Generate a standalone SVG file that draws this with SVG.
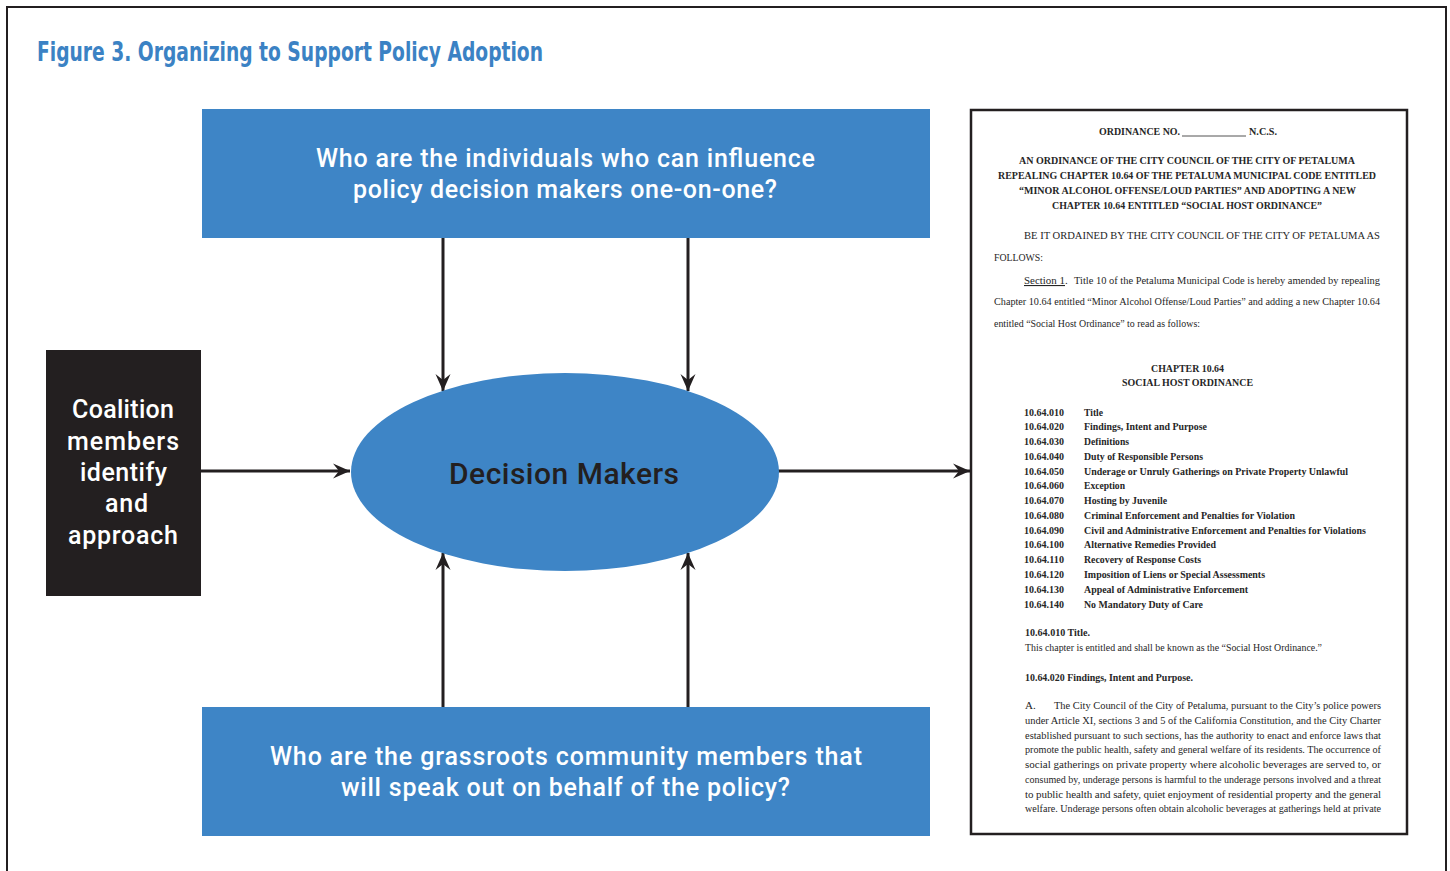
<svg xmlns="http://www.w3.org/2000/svg" width="1450" height="871" viewBox="0 0 1450 871">
<style>
.title{font-family:"Liberation Sans Narrow","DejaVu Sans Condensed","Liberation Sans",sans-serif;font-weight:bold;font-size:26px;fill:#3b82c4}
.box{fill:#3e85c6}
.wt{font-family:Roboto,"Liberation Sans",sans-serif;font-weight:500;font-size:25px;fill:#ffffff}
.dm{font-family:Roboto,"Liberation Sans",sans-serif;font-weight:500;font-size:30px;fill:#231f20}
.conn{stroke:#231f20;stroke-width:3;fill:none}
.doc{font-family:"Liberation Serif","Times New Roman",serif;font-size:11px;fill:#262626}
.b{font-weight:bold}
</style>
<defs>
<marker id="ah" markerUnits="userSpaceOnUse" markerWidth="20" markerHeight="18" viewBox="-18 -9 20 18" refX="0" refY="0" orient="auto">
<path d="M0,0 L-17,-7.5 L-11,0 L-17,7.5 Z" fill="#231f20"/>
</marker>
</defs>
<rect width="1450" height="871" fill="#ffffff"/>
<path d="M7,871 V7 H1446 V871" fill="none" stroke="#231f20" stroke-width="2"/>
<text class="title" x="37" y="61" textLength="506" lengthAdjust="spacingAndGlyphs">Figure 3. Organizing to Support Policy Adoption</text>

<g id="connectors">
<line class="conn" x1="443" y1="238" x2="443" y2="391" marker-end="url(#ah)"/>
<line class="conn" x1="688" y1="238" x2="688" y2="391" marker-end="url(#ah)"/>
<line class="conn" x1="443" y1="707" x2="443" y2="553" marker-end="url(#ah)"/>
<line class="conn" x1="688" y1="707" x2="688" y2="553" marker-end="url(#ah)"/>
<line class="conn" x1="201" y1="471" x2="350" y2="471" marker-end="url(#ah)"/>
<line class="conn" x1="690" y1="471" x2="970" y2="471" marker-end="url(#ah)"/>
</g>

<g id="influencers">
<rect class="box" x="202" y="109" width="728" height="129"/>
<text class="wt" x="316" y="167" textLength="499" lengthAdjust="spacing">Who are the individuals who can influence</text>
<text class="wt" x="353" y="198" textLength="424" lengthAdjust="spacing">policy decision makers one-on-one?</text>
</g>

<g id="grassroots">
<rect class="box" x="202" y="707" width="728" height="129"/>
<text class="wt" x="270" y="765" textLength="592" lengthAdjust="spacing">Who are the grassroots community members that</text>
<text class="wt" x="341" y="796" textLength="449" lengthAdjust="spacing">will speak out on behalf of the policy?</text>
</g>

<g id="coalition">
<rect x="46" y="350" width="155" height="246" fill="#231f20"/>
<text class="wt" x="72" y="418" textLength="102" lengthAdjust="spacing">Coalition</text>
<text class="wt" x="67" y="450" textLength="112" lengthAdjust="spacing">members</text>
<text class="wt" x="80" y="481" textLength="87" lengthAdjust="spacing">identify</text>
<text class="wt" x="105" y="512" textLength="43" lengthAdjust="spacing">and</text>
<text class="wt" x="68" y="544" textLength="110" lengthAdjust="spacing">approach</text>
</g>

<g id="decision-makers">
<ellipse cx="565" cy="472" rx="214" ry="99" fill="#3e85c6"/>
<text class="dm" x="449" y="484" textLength="230" lengthAdjust="spacing">Decision Makers</text>
</g>

<g id="ordinance">
<rect x="971" y="110" width="436" height="724" fill="#ffffff" stroke="#231f20" stroke-width="2.5"/>
<g class="doc">
<text class="b" x="1099" y="135" textLength="81" lengthAdjust="spacingAndGlyphs">ORDINANCE NO.</text>
<line x1="1182" y1="136" x2="1246" y2="136" stroke="#262626" stroke-width="0.8"/>
<text class="b" x="1249" y="135" textLength="28" lengthAdjust="spacingAndGlyphs">N.C.S.</text>
<text class="b" x="1019" y="164" textLength="336" lengthAdjust="spacingAndGlyphs">AN ORDINANCE OF THE CITY COUNCIL OF THE CITY OF PETALUMA</text>
<text class="b" x="998" y="179" textLength="378" lengthAdjust="spacingAndGlyphs">REPEALING CHAPTER 10.64 OF THE PETALUMA MUNICIPAL CODE ENTITLED</text>
<text class="b" x="1019" y="194" textLength="337" lengthAdjust="spacingAndGlyphs">“MINOR ALCOHOL OFFENSE/LOUD PARTIES” AND ADOPTING A NEW</text>
<text class="b" x="1052" y="209" textLength="270" lengthAdjust="spacingAndGlyphs">CHAPTER 10.64 ENTITLED “SOCIAL HOST ORDINANCE”</text>
<text x="1024" y="239" textLength="356" lengthAdjust="spacingAndGlyphs">BE IT ORDAINED BY THE CITY COUNCIL OF THE CITY OF PETALUMA AS</text>
<text x="994" y="261" textLength="49" lengthAdjust="spacingAndGlyphs">FOLLOWS:</text>
<text x="1024" y="284" textLength="41" lengthAdjust="spacingAndGlyphs" text-decoration="underline">Section 1</text>
<text x="1065" y="284">.</text>
<text x="1074" y="284" textLength="306" lengthAdjust="spacingAndGlyphs">Title 10 of the Petaluma Municipal Code is hereby amended by repealing</text>
<text x="994" y="305" textLength="386" lengthAdjust="spacingAndGlyphs">Chapter 10.64 entitled “Minor Alcohol Offense/Loud Parties” and adding a new Chapter 10.64</text>
<text x="994" y="327" textLength="206" lengthAdjust="spacingAndGlyphs">entitled “Social Host Ordinance” to read as follows:</text>
<text class="b" x="1151" y="372" textLength="73" lengthAdjust="spacingAndGlyphs">CHAPTER 10.64</text>
<text class="b" x="1122" y="386" textLength="131" lengthAdjust="spacingAndGlyphs">SOCIAL HOST ORDINANCE</text>
<g class="b">
<text x="1024" y="415.5" textLength="40" lengthAdjust="spacingAndGlyphs">10.64.010</text>
<text x="1024" y="430.3" textLength="40" lengthAdjust="spacingAndGlyphs">10.64.020</text>
<text x="1024" y="445.1" textLength="40" lengthAdjust="spacingAndGlyphs">10.64.030</text>
<text x="1024" y="459.8" textLength="40" lengthAdjust="spacingAndGlyphs">10.64.040</text>
<text x="1024" y="474.6" textLength="40" lengthAdjust="spacingAndGlyphs">10.64.050</text>
<text x="1024" y="489.4" textLength="40" lengthAdjust="spacingAndGlyphs">10.64.060</text>
<text x="1024" y="504.1" textLength="40" lengthAdjust="spacingAndGlyphs">10.64.070</text>
<text x="1024" y="518.9" textLength="40" lengthAdjust="spacingAndGlyphs">10.64.080</text>
<text x="1024" y="533.7" textLength="40" lengthAdjust="spacingAndGlyphs">10.64.090</text>
<text x="1024" y="548.4" textLength="40" lengthAdjust="spacingAndGlyphs">10.64.100</text>
<text x="1024" y="563.2" textLength="40" lengthAdjust="spacingAndGlyphs">10.64.110</text>
<text x="1024" y="578" textLength="40" lengthAdjust="spacingAndGlyphs">10.64.120</text>
<text x="1024" y="592.7" textLength="40" lengthAdjust="spacingAndGlyphs">10.64.130</text>
<text x="1024" y="607.5" textLength="40" lengthAdjust="spacingAndGlyphs">10.64.140</text>
<text x="1084" y="415.5" textLength="19" lengthAdjust="spacingAndGlyphs">Title</text>
<text x="1084" y="430.3" textLength="123" lengthAdjust="spacingAndGlyphs">Findings, Intent and Purpose</text>
<text x="1084" y="445.1" textLength="45" lengthAdjust="spacingAndGlyphs">Definitions</text>
<text x="1084" y="459.8" textLength="119" lengthAdjust="spacingAndGlyphs">Duty of Responsible Persons</text>
<text x="1084" y="474.6" textLength="264" lengthAdjust="spacingAndGlyphs">Underage or Unruly Gatherings on Private Property Unlawful</text>
<text x="1084" y="489.4" textLength="41" lengthAdjust="spacingAndGlyphs">Exception</text>
<text x="1084" y="504.1" textLength="83" lengthAdjust="spacingAndGlyphs">Hosting by Juvenile</text>
<text x="1084" y="518.9" textLength="211" lengthAdjust="spacingAndGlyphs">Criminal Enforcement and Penalties for Violation</text>
<text x="1084" y="533.7" textLength="282" lengthAdjust="spacingAndGlyphs">Civil and Administrative Enforcement and Penalties for Violations</text>
<text x="1084" y="548.4" textLength="132" lengthAdjust="spacingAndGlyphs">Alternative Remedies Provided</text>
<text x="1084" y="563.2" textLength="117" lengthAdjust="spacingAndGlyphs">Recovery of Response Costs</text>
<text x="1084" y="578" textLength="181" lengthAdjust="spacingAndGlyphs">Imposition of Liens or Special Assessments</text>
<text x="1084" y="592.7" textLength="164" lengthAdjust="spacingAndGlyphs">Appeal of Administrative Enforcement</text>
<text x="1084" y="607.5" textLength="119" lengthAdjust="spacingAndGlyphs">No Mandatory Duty of Care</text>
</g>
<text class="b" x="1025" y="636" textLength="65" lengthAdjust="spacingAndGlyphs">10.64.010 Title.</text>
<text x="1025" y="651" textLength="297" lengthAdjust="spacingAndGlyphs">This chapter is entitled and shall be known as the “Social Host Ordinance.”</text>
<text class="b" x="1025" y="681" textLength="168" lengthAdjust="spacingAndGlyphs">10.64.020 Findings, Intent and Purpose.</text>
<text x="1025" y="709">A.</text>
<text x="1054" y="709" textLength="327" lengthAdjust="spacingAndGlyphs">The City Council of the City of Petaluma, pursuant to the City’s police powers</text>
<text x="1025" y="724" textLength="356" lengthAdjust="spacingAndGlyphs">under Article XI, sections 3 and 5 of the California Constitution, and the City Charter</text>
<text x="1025" y="739" textLength="356" lengthAdjust="spacingAndGlyphs">established pursuant to such sections, has the authority to enact and enforce laws that</text>
<text x="1025" y="753" textLength="356" lengthAdjust="spacingAndGlyphs">promote the public health, safety and general welfare of its residents.  The occurrence of</text>
<text x="1025" y="768" textLength="356" lengthAdjust="spacing">social gatherings on private property where alcoholic beverages are served to, or</text>
<text x="1025" y="783" textLength="356" lengthAdjust="spacingAndGlyphs">consumed by, underage persons is harmful to the underage persons involved and a threat</text>
<text x="1025" y="798" textLength="356" lengthAdjust="spacing">to public health and safety, quiet enjoyment of residential property and the general</text>
<text x="1025" y="812" textLength="356" lengthAdjust="spacingAndGlyphs">welfare.  Underage persons often obtain alcoholic beverages at gatherings held at private</text>
</g>
</g>
</svg>
